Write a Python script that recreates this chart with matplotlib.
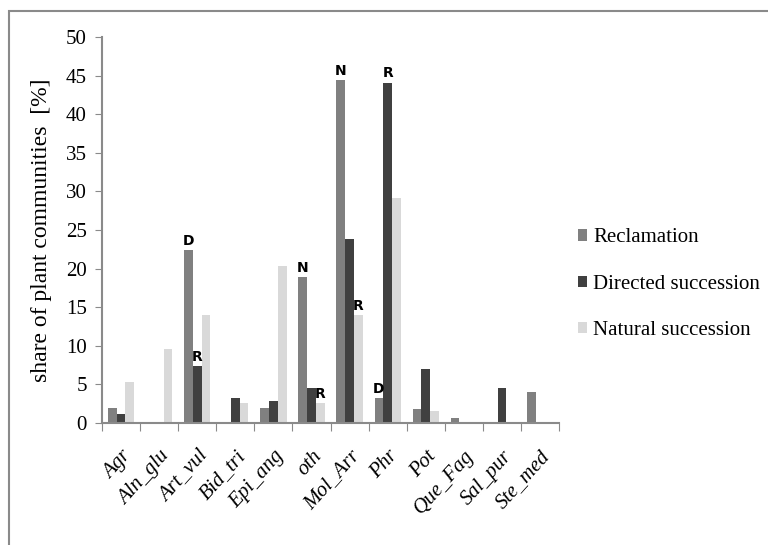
import matplotlib.pyplot as plt
import numpy as np
from matplotlib.patches import Rectangle

categories = ['Agr', 'Aln_glu', 'Art_vul', 'Bid_tri', 'Epi_ang', 'oth',
              'Mol_Arr', 'Phr', 'Pot', 'Que_Fag', 'Sal_pur', 'Ste_med']
reclamation = [1.9, 0, 22.4, 0, 1.9, 18.9, 44.4, 3.2, 1.8, 0.6, 0, 4.0]
directed = [1.2, 0, 7.4, 3.2, 2.8, 4.5, 23.8, 44.1, 7.0, 0, 4.5, 0]
natural = [5.3, 9.6, 14.0, 2.6, 20.3, 2.6, 14.0, 29.1, 1.5, 0, 0, 0]
series_names = ['Reclamation', 'Directed succession', 'Natural succession']
colors = ['#808080', '#404040', '#d9d9d9']

# letters over bars: (category index, series index, letter)
marks = [(2, 0, 'D'), (2, 1, 'R'), (5, 0, 'N'), (5, 2, 'R'),
         (6, 0, 'N'), (6, 2, 'R'), (7, 0, 'D'), (7, 1, 'R')]

plt.rcParams['font.family'] = ['Liberation Serif', 'DejaVu Serif']

fig = plt.figure(figsize=(7.68, 5.45), dpi=100)
ax = fig.add_axes([0.1328, 0.2239, 0.728 - 0.1328, 0.932 - 0.2239])

# frame around the chart area
fig.patches.append(Rectangle((9 / 768, -0.1), 1.2, 1 - 11 / 545 + 0.1,
                             transform=fig.transFigure, fill=False,
                             edgecolor='#8a8a8a', linewidth=1.5))

x = np.arange(len(categories))
w = 0.23
data = [reclamation, directed, natural]
for i, (vals, c, name) in enumerate(zip(data, colors, series_names)):
    ax.bar(x + (i - 1) * w, vals, w, color=c, label=name)

for ci, si, letter in marks:
    ax.text(x[ci] + (si - 1) * w, data[si][ci] + 0.3, letter, ha='center', va='bottom',
            fontsize=10, fontweight='bold', family='DejaVu Sans')

ax.set_xlim(-0.5, len(categories) - 0.5)
ax.set_ylim(0, 50)
ax.set_yticks(np.arange(0, 51, 5))
ax.set_xticks(np.arange(-0.5, len(categories), 1))
ax.set_xticklabels([])
ax.set_xticks(x, minor=True)
ax.set_xticklabels(categories, minor=True, rotation=48, ha='right',
                   rotation_mode='anchor', fontstyle='italic', fontsize=15)
ax.tick_params(axis='x', which='minor', length=0, pad=17)
ax.tick_params(axis='x', which='major', length=6, color='#8a8a8a')
ax.tick_params(axis='y', length=5, color='#8a8a8a', labelsize=15, pad=6)
for s in ['top', 'right']:
    ax.spines[s].set_visible(False)
for s in ['left', 'bottom']:
    ax.spines[s].set_color('#8a8a8a')
    ax.spines[s].set_linewidth(1.5)

ax.set_ylabel('share of plant communities  [%]', fontsize=17, labelpad=10)

ax.legend(loc='center left', bbox_to_anchor=(1.0, 0.36), frameon=False,
          fontsize=15, handlelength=0.45, handleheight=0.45, handletextpad=0.3,
          labelspacing=1.3)

fig.savefig('out.png', dpi=100)
